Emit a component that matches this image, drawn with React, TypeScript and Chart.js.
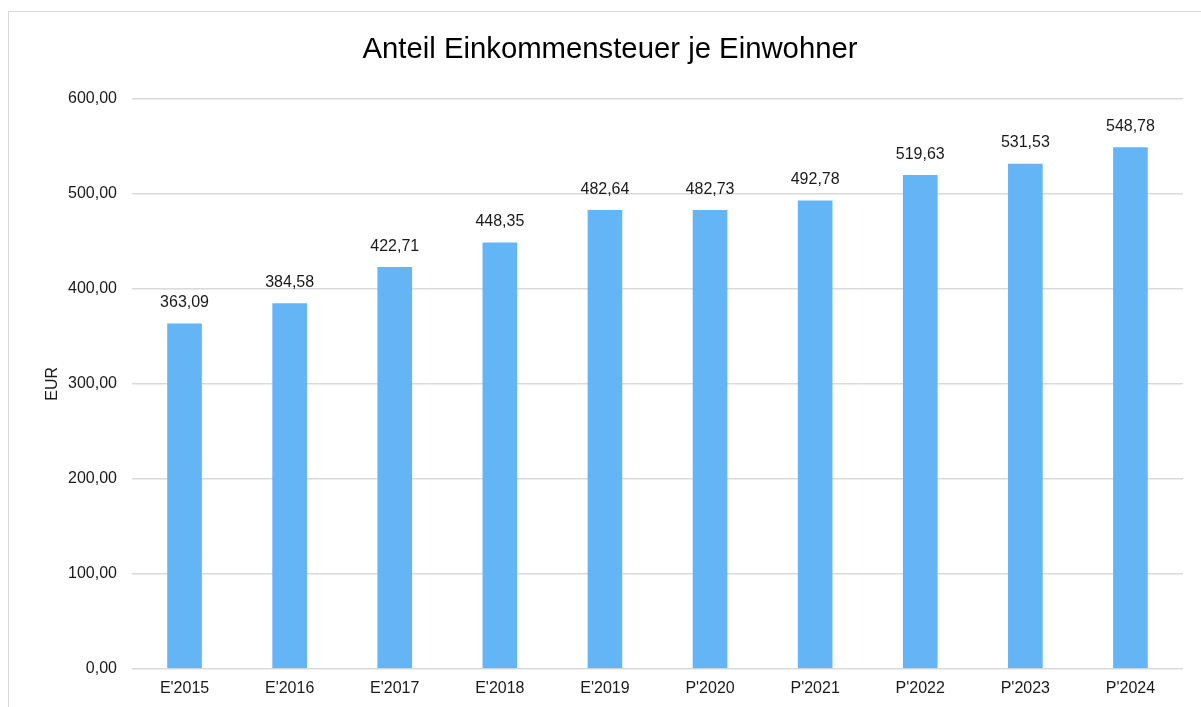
import React, { useEffect, useRef } from "react";
import { Chart, registerables } from "chart.js";

Chart.register(...registerables);

const categories = ["E'2015", "E'2016", "E'2017", "E'2018", "E'2019", "P'2020", "P'2021", "P'2022", "P'2023", "P'2024"];
const values = [363.09, 384.58, 422.71, 448.35, 482.64, 482.73, 492.78, 519.63, 531.53, 548.78];
const yTickMin = 0;
const yTickMax = 600;
const yTickStep = 100;

const FONT = "Arial, 'Liberation Sans', sans-serif";
const fmt = (v: number) => v.toFixed(2).replace(".", ",");

const dataLabelPlugin = {
  id: "dataLabels",
  afterDatasetsDraw(chart: any) {
    const ctx = chart.ctx;
    const meta = chart.getDatasetMeta(0);
    ctx.save();
    ctx.font = `16px ${FONT}`;
    ctx.fillStyle = "#1a1a1a";
    ctx.textAlign = "center";
    ctx.textBaseline = "middle";
    meta.data.forEach((el: any, i: number) => {
      ctx.fillText(fmt(values[i]), el.x, el.y - 21);
    });
    ctx.restore();
  },
};

export default function App() {
  const ref = useRef<HTMLCanvasElement>(null);
  useEffect(() => {
    if (!ref.current) return;
    const chart = new Chart(ref.current, {
      type: "bar",
      data: {
        labels: categories,
        datasets: [
          {
            data: values,
            backgroundColor: "#64B5F6",
            barThickness: 34,
          },
        ],
      },
      options: {
        animation: false,
        responsive: false,
        layout: { padding: { left: 28, right: 28, top: 0, bottom: 4.2 } },
        plugins: {
          legend: { display: false },
          tooltip: { enabled: false },
          title: {
            display: true,
            text: "Anteil Einkommensteuer je Einwohner",
            color: "#000",
            font: { family: FONT, size: 29.3, weight: "normal" },
            padding: { top: 20.4, bottom: 31.4 },
          },
        },
        scales: {
          x: {
            grid: { display: false, drawTicks: false },
            border: { display: false },
            ticks: { color: "#1a1a1a", font: { family: FONT, size: 16 }, padding: 10, maxRotation: 0 },
          },
          y: {
            min: yTickMin,
            max: yTickMax,
            afterFit: (scale: any) => {
              scale.width = 95;
            },
            grid: { color: "#d9d9d9", lineWidth: 1.5, drawTicks: false },
            border: { display: false },
            ticks: {
              stepSize: yTickStep,
              color: "#1a1a1a",
              font: { family: FONT, size: 16 },
              padding: 15,
              callback: (v: any) => fmt(Number(v)),
            },
            title: {
              display: true,
              text: "EUR",
              color: "#1a1a1a",
              font: { family: FONT, size: 16 },
              padding: { top: 6.4, bottom: 0 },
            },
          },
        },
      },
      plugins: [dataLabelPlugin],
    });
    return () => chart.destroy();
  }, []);

  return (
    <div style={{ position: "fixed", left: 0, top: 0, width: 1201, height: 707, overflow: "hidden", background: "#fff" }}>
      <div
        style={{
          position: "absolute",
          left: 8,
          top: 11,
          width: 1250,
          height: 750,
          border: "1px solid #d9d9d9",
          boxSizing: "border-box",
        }}
      />
      <canvas ref={ref} width={1202} height={700} style={{ position: "absolute", left: 9, top: 12 }} />
    </div>
  );
}
